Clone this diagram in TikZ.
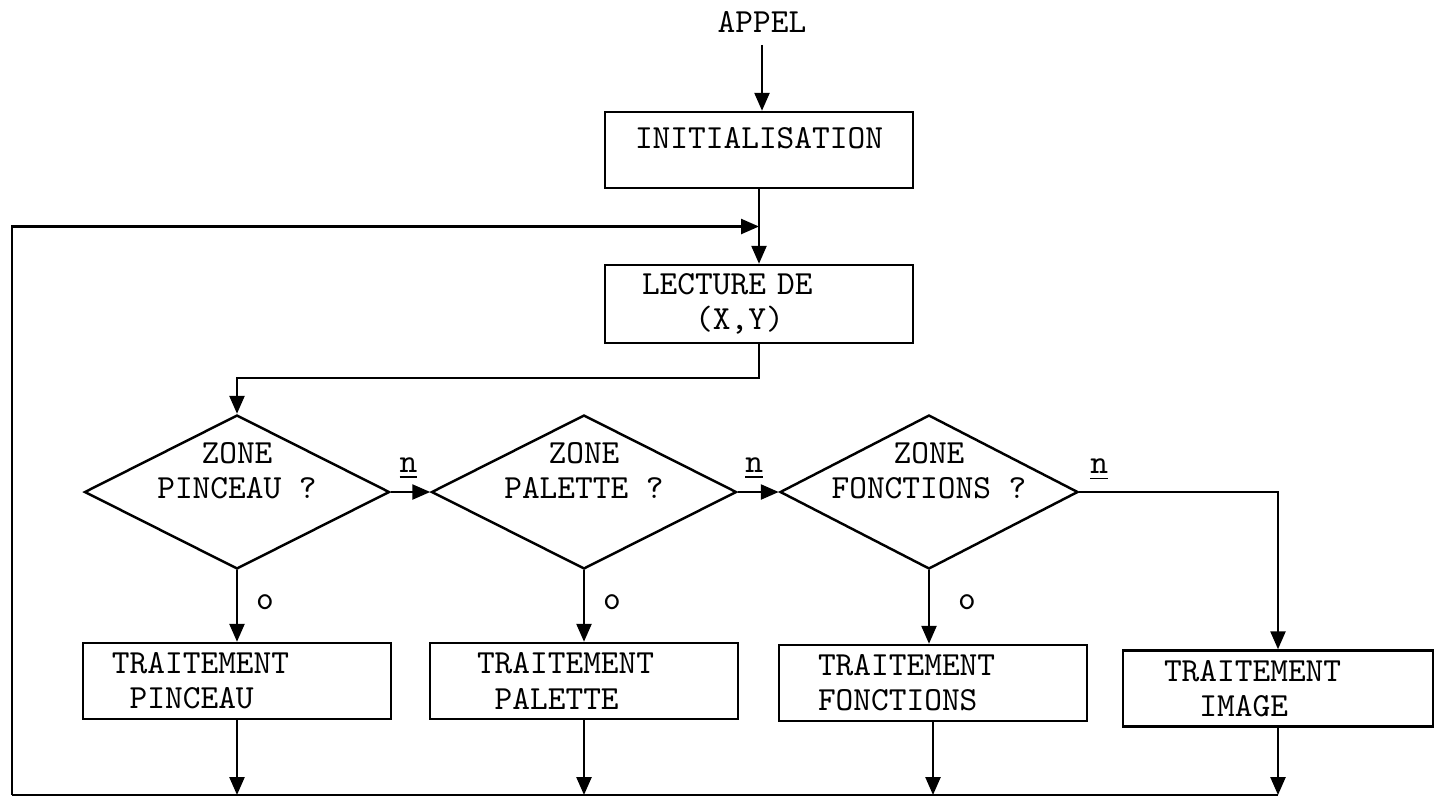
\documentclass[tikz,border=0pt]{standalone}
\usetikzlibrary{arrows.meta,positioning,calc,shapes.geometric}
\tikzset{
  wire/.style       = {line width=0.7pt},
  flow/.style       = {-{Triangle[length=1.8mm,width=1.5mm]}, line width=0.7pt},
  box/.style        = {draw, wire, minimum width=3.08cm, minimum height=0.76cm, inner sep=0pt},
  proc/.style 2 args = {draw, wire, minimum height=0.76cm, inner ysep=0pt,
                       align=left, inner xsep=#1, text width=#2},
  dec/.style        = {draw, wire, diamond, minimum width=3.05cm, minimum height=1.54cm, inner sep=0pt},
  every node/.style = {font=\ttfamily\fontsize{9.6}{10}\selectfont},
  lbl/.style        = {inner sep=1pt},
}
\newcommand{\dtext}[2]{\raisebox{0.9mm}[0pt][0pt]{\makebox[0pt]{\begin{tabular}{@{}c@{}}#1\\#2\end{tabular}}}}

\begin{document}
\begin{tikzpicture}
  \useasboundingbox (0,0) rectangle (14.4,-7.99);
  \node (appel) at (7.62,-0.22) {APPEL};
  \node[box] (init) at (7.59,-1.50) {\raisebox{0.2mm}[0pt][0pt]{INITIALISATION}};
  \node[proc={0.37cm}{2.34cm}, minimum height=0.78cm] (lect) at (7.59,-3.04)
    {LECTURE\ DE\\\hphantom{XXX}(X,Y)};
  % tests
  \node[dec] (pinc) at (2.37,-4.92) {\dtext{ZONE}{PINCEAU ?}};
  \node[dec] (pal) at (5.84,-4.92) {\dtext{ZONE}{PALETTE ?}};
  \node[dec, minimum width=2.98cm] (fonc) at (9.29,-4.92) {\dtext{ZONE}{FONCTIONS ?}};
  % traitements
  \node[proc={0.29cm}{2.50cm}] (tpinc) at (2.37,-6.81) {TRAITEMENT\\\hphantom{X}PINCEAU};
  \node[proc={0.47cm}{2.14cm}] (tpal) at (5.84,-6.81) {TRAITEMENT\\\hphantom{X}PALETTE};
  \node[proc={0.39cm}{2.30cm}] (tfonc) at (9.33,-6.83) {TRAITEMENT\\FONCTIONS};
  \node[proc={0.41cm}{2.28cm}] (timg) at (12.78,-6.885) {TRAITEMENT\\\hphantom{XX}IMAGE};
  \coordinate (join) at ($(init.south)!0.5!(lect.north)$);
  \coordinate (bl) at (0.12,-7.95);
  \draw[flow] (appel) -- (appel |- init.north);
  \draw[flow] (init) -- (lect);
  \draw[flow] (lect.south) -- ++(0,-0.34) -| (pinc.north);
  \draw[flow] (pinc.east) -- (pal.west) node[pos=0.45, above=0.8mm, lbl] {\underline{n}};
  \draw[flow] (pal.east) -- (fonc.west) node[pos=0.4, above=0.8mm, lbl] {\underline{n}};
  \draw[flow] (fonc.east) -| (timg.north);
  \node[lbl] at ($(fonc.east)+(0.2,0.22)$) {\underline{n}};
  \draw[flow] (pinc.south) -- (pinc.south |- tpinc.north);
  \draw[flow] (pal.south) -- (pal.south |- tpal.north);
  \draw[flow] (fonc.south) -- (fonc.south |- tfonc.north);
  \node[lbl] at ($(pinc.south)+(0.28,-0.32)$) {o};
  \node[lbl] at ($(pal.south)+(0.28,-0.32)$) {o};
  \node[lbl] at ($(fonc.south)+(0.38,-0.32)$) {o};
  % retour
  \draw[flow] (tpinc.south) -- (tpinc.south |- bl);
  \draw[flow] (tpal.south) -- (tpal.south |- bl);
  \draw[flow] (tfonc.south) -- (tfonc.south |- bl);
  \draw[flow] (timg.south) -- (timg.south |- bl);
  \draw[wire] (timg.south |- bl) -- (bl);
  \draw[flow] (bl) |- (join);
\end{tikzpicture}
\end{document}
